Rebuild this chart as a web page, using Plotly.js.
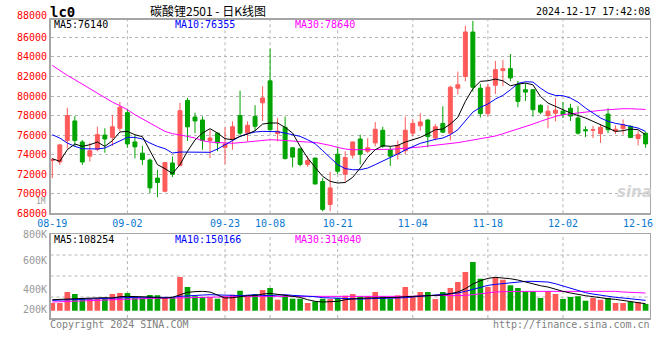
<!DOCTYPE html>
<html><head><meta charset="utf-8">
<script src="https://cdn.plot.ly/plotly-3.0.1.min.js"></script>
<style>html,body{margin:0;padding:0;background:#fff;}#chart{width:660px;height:360px;}</style>
</head><body><div id="chart"></div>
<script>
const dates = ['08-19','08-20','08-21','08-22','08-23','08-26','08-27','08-28','08-29','08-30',
'09-02','09-03','09-04','09-05','09-06','09-09','09-10','09-11','09-12','09-13',
'09-18','09-19','09-20','09-23','09-24','09-25','09-26','09-27','09-30','10-08',
'10-09','10-10','10-11','10-14','10-15','10-16','10-17','10-18','10-21','10-22',
'10-23','10-24','10-25','10-28','10-29','10-30','10-31','11-01','11-04','11-05',
'11-06','11-07','11-08','11-11','11-12','11-13','11-14','11-15','11-18','11-19',
'11-20','11-21','11-22','11-25','11-26','11-27','11-28','11-29','12-02','12-03',
'12-04','12-05','12-06','12-09','12-10','12-11','12-12','12-13','12-16','12-17'];

const open = [73400,73250,75450,77450,75300,73850,74550,76000,75770,76700,
78300,75300,74150,73450,71600,70250,73150,72900,79550,77850,
77550,75450,76200,74750,75530,78000,76200,77900,79300,81550,
76150,76800,74700,74600,73000,73650,71250,68900,74050,72000,
73950,75600,74350,75200,76500,74500,74050,74400,76200,76950,
77550,75700,77200,76200,80800,82000,86550,80800,78200,81100,
82600,82800,81200,80650,80650,79050,78000,78250,78450,78750,
77750,76550,76500,76150,78150,76400,76650,76900,75650,76200];
const high = [73650,75100,78800,77950,75500,75200,76850,76700,78050,79400,
78650,76000,74900,73600,72450,73250,73800,79300,79800,78300,
77900,76550,76250,76800,77400,80550,77400,79050,81000,84850,
77750,77900,74750,74650,73850,73700,71600,72250,74700,74350,
75350,76050,75700,77350,76850,74850,75450,77900,77650,78250,
77600,77150,78950,81050,82500,87200,87700,81250,81250,83600,
83700,84300,81550,81300,80700,79150,79050,79800,79400,79200,
78950,76900,76950,77050,78750,77000,77600,77000,76400,76300];
const low = [71600,72950,74600,74800,72950,73300,74350,74200,74900,76350,
74700,73620,72950,70050,69650,70150,71700,72800,75400,76200,
74500,73650,74350,73050,74500,75950,75350,76400,77450,76450,
75350,73500,72700,72800,72750,70950,68200,68200,72000,71250,
73600,73000,74150,74850,74700,72850,73500,74050,75850,76450,
74750,75450,76200,75450,80150,81500,80450,77800,77900,80200,
81000,81500,78850,79500,77900,78150,76700,77400,77750,77450,
76050,75800,75700,75200,76200,76100,76050,75700,74950,74700];
const close = [73500,75000,78000,75450,73250,74400,76050,75600,76850,78850,
75100,74800,73500,70600,71150,73200,72000,78500,76850,77450,
75450,75700,75200,75100,76860,76200,77000,76900,79800,76550,
76400,73600,73750,73000,73400,71000,68400,70600,72300,73700,
75300,74050,74700,76600,74850,73850,74950,76500,77200,77350,
75850,76850,76300,80900,81150,86550,80900,78200,80900,82700,
82800,81850,79450,80400,78600,78350,78450,78550,78100,77950,
76200,76450,76550,76800,76550,76600,77050,75750,76050,75100];

const ma5 = [73590,73320,74510,75090,74850,75020,75290,74850,75430,76320,
76380,76040,75840,74340,72980,72570,72060,72980,74340,75500,
76210,76660,76210,75630,75530,75870,76110,76450,77130,77240,
77240,76790,76210,74850,73660,72700,71780,71270,71100,71150,
71680,72630,73730,74510,74920,74850,74950,75290,75530,75770,
76140,76550,76620,77130,77820,79450,80750,81500,81560,81730,
81560,81050,81220,81320,81150,79960,79280,78910,78600,78260,
78020,77750,77410,77070,76660,76380,76450,76620,76550,76040];
const ma10 = [76040,75700,75190,74850,74610,74580,74580,74680,75020,75430,
75770,75770,75600,75190,74850,74610,74170,74270,74270,74270,
74240,74240,74580,75020,75430,75870,76140,76320,76380,76380,
76350,76210,76040,75870,75530,75120,74410,73730,72980,72570,
72460,72460,72630,72980,73320,73730,74070,74480,74820,75160,
75360,75570,75700,76040,76550,77410,78360,78840,79180,79690,
80060,80640,81290,81460,81430,80810,80300,80060,80030,79790,
79380,78770,78260,77750,77410,77200,77070,76890,76720,76380];
const ma30 = [83130,82590,82110,81670,81220,80750,80300,79790,79380,79010,
78600,78090,77680,77240,76790,76380,76150,76040,75870,75700,
75430,75290,75230,75160,75160,75230,75290,75360,75460,75530,
75500,75430,75360,75290,75290,75260,75120,74950,74750,74580,
74500,74500,74500,74500,74520,74550,74600,74650,74700,74780,
74880,74950,75020,75120,75230,75360,75500,75630,75770,75910,
76140,76380,76620,76830,77130,77410,77680,77920,78090,78190,
78260,78330,78430,78530,78600,78670,78700,78700,78700,78630];

const volume = [140000,140000,340000,303000,231000,218000,218000,218000,303000,322000,
322000,243000,231000,285000,279000,231000,231000,613000,431000,261000,
249000,249000,218000,261000,291000,364000,261000,303000,376000,413000,
200000,273000,218000,218000,140000,170000,218000,212000,231000,273000,
303000,261000,261000,340000,261000,218000,279000,431000,261000,340000,
340000,212000,340000,413000,522000,704000,886000,582000,431000,607000,
564000,461000,413000,352000,352000,231000,352000,303000,212000,249000,
261000,182000,231000,200000,231000,140000,140000,158000,158000,121000];
const volMa5 = [200000,212000,212000,218000,224000,231000,243000,237000,231000,255000,
261000,261000,261000,249000,237000,231000,243000,291000,334000,346000,
352000,340000,279000,231000,237000,261000,273000,273000,303000,315000,
297000,279000,273000,243000,200000,170000,158000,158000,170000,200000,
218000,224000,231000,231000,231000,237000,243000,255000,261000,267000,
273000,273000,285000,309000,340000,400000,485000,546000,588000,607000,
601000,582000,558000,522000,491000,455000,431000,388000,352000,322000,
291000,273000,255000,231000,218000,206000,188000,170000,158000,127000];
const volMa10 = [188000,194000,200000,206000,212000,212000,212000,218000,224000,231000,
237000,243000,243000,243000,243000,243000,243000,261000,273000,279000,
285000,291000,291000,291000,279000,273000,285000,291000,279000,273000,
285000,291000,279000,273000,267000,255000,237000,231000,224000,218000,
212000,212000,218000,218000,218000,224000,231000,237000,249000,261000,
273000,279000,291000,303000,322000,352000,388000,431000,461000,479000,
491000,510000,528000,534000,534000,534000,522000,491000,449000,400000,
358000,328000,303000,279000,261000,243000,231000,218000,206000,188000];
const volMa30 = [158000,164000,170000,176000,182000,188000,194000,197000,200000,209000,
218000,218000,221000,224000,224000,228000,231000,231000,234000,237000,
240000,243000,252000,261000,261000,261000,261000,261000,261000,261000,
261000,261000,261000,261000,261000,261000,261000,261000,261000,255000,
255000,255000,255000,255000,255000,261000,261000,261000,261000,273000,
273000,273000,273000,279000,279000,279000,291000,309000,322000,340000,
346000,352000,352000,352000,352000,352000,352000,358000,358000,358000,
352000,352000,352000,352000,352000,352000,340000,340000,328000,322000];

const priceTicks = [68000,70000,72000,74000,76000,78000,80000,82000,84000,86000];
const dateTickLabels = ['08-19','09-02','09-23','10-08','10-21','11-04','11-18','12-02','12-16'];
const gridDates = ['09-02','09-23','10-08','10-21','11-04','11-18','12-02'];
const volTickLabels = ['200K','400K','600K','800K'];
const volTickVals = [13000,377000,905000,1396000];

const UP = '#ff5a5a', DOWN = '#00a400';
const MONO = 'DejaVu Sans Mono';
const GRID = '#b4b4b4', FRAME = '#a6a6a6';
const volColors = close.map((c,i) => c >= open[i] ? UP : DOWN);

const traces = [
  {type:'candlestick', x:dates, open:open, high:high, low:low, close:close, xaxis:'x', yaxis:'y',
   increasing:{line:{color:UP,width:1}, fillcolor:UP},
   decreasing:{line:{color:DOWN,width:1}, fillcolor:DOWN},
   whiskerwidth:0, hoverinfo:'skip'},
  {type:'scatter', mode:'lines', x:dates, y:ma30, line:{color:'#ff00ff',width:1}, xaxis:'x', yaxis:'y', hoverinfo:'skip'},
  {type:'scatter', mode:'lines', x:dates, y:ma10, line:{color:'#0000ff',width:1}, xaxis:'x', yaxis:'y', hoverinfo:'skip'},
  {type:'scatter', mode:'lines', x:dates, y:ma5, line:{color:'#000000',width:1}, xaxis:'x', yaxis:'y', hoverinfo:'skip'},
  {type:'bar', x:dates, y:volume, marker:{color:volColors, line:{width:0}}, xaxis:'x2', yaxis:'y2', hoverinfo:'skip'},
  {type:'scatter', mode:'lines', x:dates, y:volMa30, line:{color:'#ff00ff',width:1}, xaxis:'x2', yaxis:'y2', hoverinfo:'skip'},
  {type:'scatter', mode:'lines', x:dates, y:volMa10, line:{color:'#0000ff',width:1}, xaxis:'x2', yaxis:'y2', hoverinfo:'skip'},
  {type:'scatter', mode:'lines', x:dates, y:volMa5, line:{color:'#000000',width:1}, xaxis:'x2', yaxis:'y2', hoverinfo:'skip'}
];

const L = 50.5/660, R = 649.5/660;
const py = v => (360 - v) / 360;
function ann(text, x, y, color, anchor, size, family) {
  return {text:text, xref:'paper', yref:'paper', x:x/660, y:py(y), xanchor:anchor, yanchor:'middle',
    showarrow:false, borderpad:0, font:{family:family||MONO, size:size||10, color:color}};
}
const dotLine = {color:GRID, width:1, dash:'dot'};
const vGrid = [];
gridDates.forEach(d => {
  const i = dates.indexOf(d);
  vGrid.push({type:'line', xref:'x', yref:'y domain', x0:i, x1:i, y0:0, y1:1, line:dotLine, layer:'below'});
  vGrid.push({type:'line', xref:'x2', yref:'y2 domain', x0:i, x1:i, y0:0, y1:1, line:dotLine, layer:'below'});
});
const hGridVol = [0.25,0.5,0.75].map(f => ({type:'line', xref:'x2 domain', yref:'y2 domain', x0:0, x1:1, y0:f, y1:f,
    line:dotLine, layer:'below'}));

const layout = {
  width:660, height:360, margin:{l:0,r:0,t:0,b:0},
  paper_bgcolor:'#ffffff', plot_bgcolor:'#ffffff', showlegend:false,
  boxgap:0.25, bargap:0.25,
  font:{family:MONO, size:10},
  xaxis:{type:'category', domain:[L,R], range:[-0.24,79.52], anchor:'y',
    tickmode:'array', tickvals:dateTickLabels, ticktext:dateTickLabels,
    tickfont:{family:MONO, size:10, color:'#0a78d0'}, ticks:'',
    showgrid:false,
    showline:true, linecolor:FRAME, linewidth:1.5, mirror:true,
    rangeslider:{visible:false}, fixedrange:true},
  yaxis:{domain:[py(213.3), py(19.5)], range:[68000,87830], anchor:'x',
    tickmode:'array', tickvals:priceTicks, ticktext:priceTicks.map(String), ticklabelshift:1.5,
    tickfont:{family:MONO, size:10, color:'#ff0000'}, ticks:'',
    showgrid:true, gridcolor:GRID, griddash:'dot', gridwidth:1, zeroline:false,
    showline:true, linecolor:FRAME, linewidth:1.5, mirror:true, fixedrange:true},
  xaxis2:{type:'category', domain:[L,R], range:[-0.24,79.52], anchor:'y2',
    showticklabels:false, ticks:'', showgrid:false,
    showline:true, linecolor:FRAME, linewidth:1.5, mirror:true, fixedrange:true},
  yaxis2:{domain:[py(318), py(234)], range:[-133000,1396000], anchor:'x2',
    tickmode:'array', tickvals:volTickVals, ticktext:volTickLabels,
    tickfont:{family:MONO, size:10, color:'#999999'}, ticks:'',
    showgrid:false, zeroline:false,
    showline:true, linecolor:FRAME, linewidth:1.5, mirror:true, fixedrange:true},
  shapes: vGrid.concat(hGridVol),
  annotations:[
    ann('<b>lc0</b>', 49, 11.5, '#000000', 'left', 14),
    ann('碳酸锂2501 - 日K线图', 208, 10, '#000000', 'center', 12, 'Noto Sans CJK SC'),
    ann('2024-12-17 17:42:08', 651, 12, '#000000', 'right', 10),
    ann('88000', 48, 16, '#ff0000', 'right', 10),
    ann('1M', 47, 201.5, '#999999', 'right', 8),
    ann('MA5:76140', 53, 25, '#000000', 'left', 10),
    ann('MA10:76355', 174, 25, '#0000ff', 'left', 10),
    ann('MA30:78640', 294, 25, '#ff00ff', 'left', 10),
    ann('MA5:108254', 53, 239, '#000000', 'left', 10),
    ann('MA10:150166', 174, 239, '#0000ff', 'left', 10),
    ann('MA30:314040', 294, 239, '#ff00ff', 'left', 10),
    ann('Copyright 2024 SINA.COM', 49, 324, '#808080', 'left', 10),
    ann('http://finance.sina.com.cn', 651, 324, '#808080', 'right', 10),
    ann('<b><i>sina</i></b>', 634, 192, '#d4d4d4', 'center', 15, 'DejaVu Sans')
  ]
};

Plotly.newPlot('chart', traces, layout, {staticPlot:true, displayModeBar:false});
</script>
</body></html>
